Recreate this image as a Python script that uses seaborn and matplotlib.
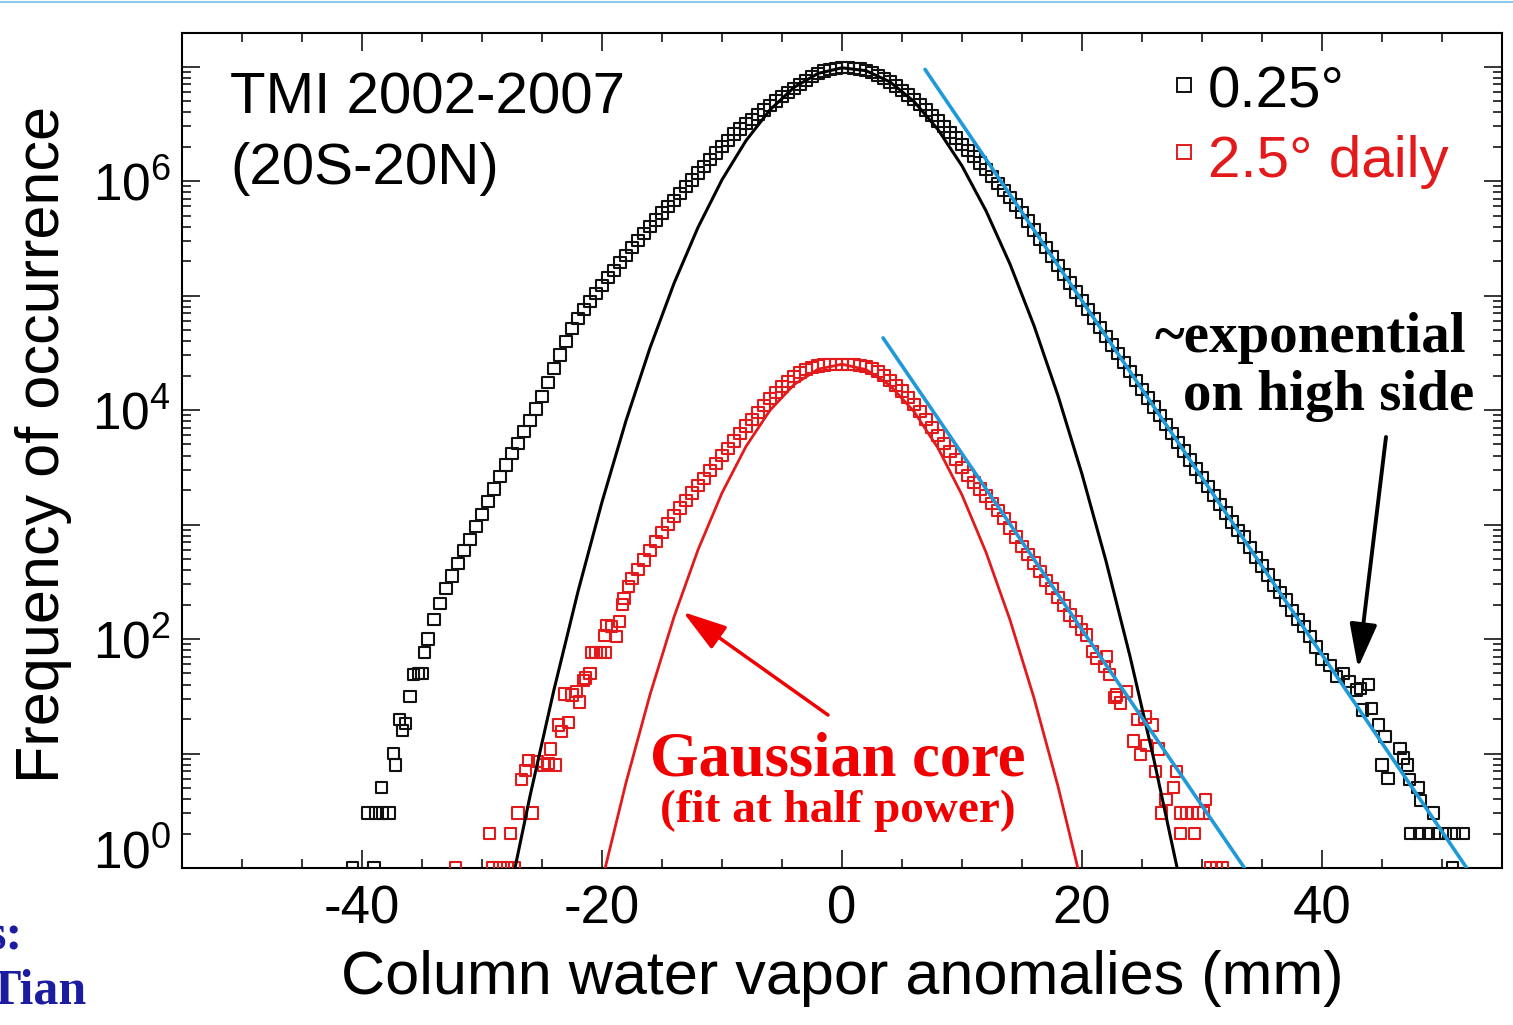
import numpy as np
import matplotlib
matplotlib.use("Agg")
import matplotlib.pyplot as plt
import seaborn as sns
from matplotlib.ticker import FixedLocator, LogLocator, FuncFormatter, MultipleLocator, NullFormatter

# ---------------- data ----------------
# log10(frequency) on a regular 0.5 mm grid of anomaly bins
black_core_start = -34.5
black_core_log10 = [
    2.00, 2.17, 2.31, 2.44, 2.55, 2.66, 2.77, 2.87, 2.98, 3.09,
    3.20, 3.31, 3.42, 3.52, 3.62, 3.71, 3.81, 3.91, 4.01, 4.12,
    4.24, 4.36, 4.48, 4.60, 4.71, 4.80, 4.88, 4.95, 5.02, 5.09,
    5.16, 5.22, 5.29, 5.35, 5.42, 5.48, 5.54, 5.60, 5.66, 5.72,
    5.775, 5.83, 5.89, 5.95, 6.01, 6.07, 6.13, 6.19, 6.245, 6.30,
    6.355, 6.41, 6.455, 6.50, 6.54, 6.58, 6.62, 6.66, 6.70, 6.74,
    6.775, 6.81, 6.845, 6.88, 6.91, 6.94, 6.96, 6.975, 6.985, 6.99,
    6.99, 6.986, 6.978, 6.965, 6.946, 6.923, 6.896, 6.865, 6.830, 6.792,
    6.752, 6.710, 6.666, 6.620, 6.573, 6.525, 6.476, 6.426, 6.375, 6.322,
    6.268, 6.213, 6.157, 6.099, 6.040, 5.980, 5.918, 5.855, 5.790, 5.724,
    5.650, 5.572, 5.495, 5.418, 5.340, 5.263, 5.186, 5.109, 5.031, 4.954,
    4.877, 4.800, 4.722, 4.645, 4.568, 4.491, 4.413, 4.336, 4.259, 4.182,
    4.104, 4.027, 3.950, 3.873, 3.795, 3.718, 3.641, 3.564, 3.486, 3.409,
    3.332, 3.255, 3.177, 3.100, 3.023, 2.946, 2.890, 2.800, 2.714, 2.637,
    2.559, 2.470, 2.405, 2.340, 2.250, 2.173, 2.110, 2.019, 1.930,
]
black_tail_x = [-34.8, -35.0, -35.3, -35.7, -36.0, -36.4, -36.6, -36.9, -37.2, -37.4,
                -37.75, -38.3, -38.4, -38.9, -39.0, -39.5, -40.8,
                40.0, 40.67, 41.2, 41.8, 42.3, 42.9, 43.2, 43.9, 43.4, 44.1,
                44.7, 45.25, 45.0, 45.5, 46.5, 46.8, 47.1, 47.3, 48.0, 48.2,
                49.3, 47.4, 48.1, 48.85, 49.6, 50.3, 51.0, 51.75, 50.9]
black_tail_log10 = [1.88, 1.70, 1.70, 1.69, 1.50, 1.26, 1.20, 1.30, 0.90, 1.00,
                    0.48, 0.48, 0.70, 0.48, 0.00, 0.48, 0.00,
                    1.82, 1.77, 1.67, 1.70, 1.63, 1.555, 1.57, 1.60, 1.38, 1.395,
                    1.25, 1.15, 0.90, 0.78, 1.045, 0.96, 0.90, 0.77, 0.70, 0.59,
                    0.48, 0.30, 0.30, 0.30, 0.30, 0.30, 0.30, 0.30, 0.00]

red_core_start = -17.5
red_core_log10 = [
    2.53, 2.61, 2.69, 2.77, 2.85, 2.93, 3.005, 3.075, 3.145, 3.21,
    3.275, 3.34, 3.405, 3.47, 3.535, 3.60, 3.665, 3.73, 3.795, 3.86,
    3.92, 3.98, 4.04, 4.10, 4.155, 4.205, 4.25, 4.29, 4.325, 4.352,
    4.372, 4.385, 4.393, 4.398, 4.40, 4.40, 4.40, 4.397, 4.39, 4.378,
    4.36, 4.335, 4.30, 4.26, 4.215, 4.165, 4.11, 4.05, 3.985, 3.92,
    3.85, 3.78, 3.71, 3.64, 3.57, 3.50, 3.43, 3.37, 3.31, 3.25,
    3.185, 3.12, 3.05, 2.97, 2.89, 2.81, 2.74, 2.665, 2.59, 2.51,
    2.44, 2.36, 2.29, 2.21, 2.15,
]
red_tail_x = [-17.8, -18.17, -18.27, -18.56, -18.8, -19.2, -19.6, -19.8, -19.75, -20.1,
              -20.5, -20.9, -21.0, -21.4, -21.56, -21.9, -22.1, -22.5, -23.1, -22.8,
              -23.4, -23.6, -24.3, -23.9, -24.5, -24.9, -25.4, -26.1, -26.4, -26.7,
              -25.8, -27.0, -27.6, -29.4, -27.3, -27.9, -28.5, -29.1, -32.2,
              19.97, 20.4, 20.9, 21.2, 22.06, 21.9, 22.3, 22.75, 22.9, 23.2,
              23.7, 24.6, 25.25, 25.9, 24.3, 25.4, 24.9, 26.4, 26.1, 27.9,
              27.6, 27.0, 30.3, 26.6, 28.2, 28.7, 29.2, 29.7, 30.1, 28.2,
              29.4, 30.7, 31.2, 31.7]
red_tail_log10 = [2.457, 2.355, 2.30, 2.15, 2.02, 2.11, 2.12, 2.03, 1.88, 1.88,
                  1.88, 1.88, 1.70, 1.66, 1.64, 1.45, 1.54, 1.51, 1.52, 1.27,
                  1.19, 1.25, 1.04, 0.90, 0.91, 0.90, 0.93, 0.94, 0.85, 0.77,
                  0.48, 0.48, 0.30, 0.30, 0.00, 0.00, 0.00, 0.00, 0.00,
                  2.08, 2.035, 1.89, 1.83, 1.845, 1.76, 1.69, 1.49, 1.51, 1.44,
                  1.54, 1.30, 1.32, 1.25, 1.11, 1.07, 0.99, 1.04, 0.84, 0.84,
                  0.70, 0.60, 0.60, 0.48, 0.48, 0.48, 0.48, 0.48, 0.48, 0.30,
                  0.30, 0.00, 0.00, 0.00]

# Gaussian fits (log10 frequency) sampled every 2 mm
gauss_x_black = [-28, -26, -24, -22, -20, -18, -16, -14, -12, -10, -8, -6, -4, -2, 0,
                 2, 4, 6, 8, 10, 12, 14, 16, 18, 20, 22, 24, 26, 28]
gauss_black_log10 = [-0.375, 0.628, 1.558, 2.415, 3.197, 3.907, 4.543, 5.106, 5.595, 6.011,
                     6.353, 6.622, 6.818, 6.940, 6.989, 6.964, 6.866, 6.695, 6.450, 6.132,
                     5.740, 5.275, 4.737, 4.125, 3.440, 2.681, 1.849, 0.943, -0.035]
gauss_x_red = [-20, -18, -16, -14, -12, -10, -8, -6, -4, -2, 0,
               2, 4, 6, 8, 10, 12, 14, 16, 18, 20]
gauss_red_log10 = [-0.114, 0.745, 1.514, 2.192, 2.779, 3.276, 3.682, 3.998, 4.222, 4.357, 4.400,
                   4.353, 4.215, 3.987, 3.668, 3.258, 2.758, 2.167, 1.485, 0.713, -0.150]

# exponential (straight on log axis) fits: end points
exp_black_x = [6.92, 52.06]
exp_black_log10 = [6.975, 0.0]
exp_red_x = [3.42, 33.54]
exp_red_log10 = [4.63, 0.0]

x_ticks = [-40, -20, 0, 20, 40]
y_decades = [0, 1, 2, 3, 4, 5, 6, 7]

# ---------------- styling ----------------
sns.set_theme(style="white")
plt.rcParams["font.family"] = ["Liberation Sans", "DejaVu Sans"]
plt.rcParams["mathtext.fontset"] = "custom"
plt.rcParams["mathtext.rm"] = "Liberation Sans"
plt.rcParams["axes.unicode_minus"] = False
for k in ["text.color", "axes.labelcolor", "xtick.color", "ytick.color", "axes.edgecolor"]:
    plt.rcParams[k] = "black"

W, H = 1513, 1025
fig = plt.figure(figsize=(W / 100, H / 100), dpi=100)
fig.patch.set_facecolor("white")
ax = fig.add_axes([182 / W, 1 - 868 / H, (1502 - 182) / W, (868 - 33) / H])
ax.set_facecolor("white")

def fpos(px, py):
    return (px / W, 1 - py / H)

BLACK = "#000000"
RED = "#e31a1c"
BLUE = "#1f9ad8"

bx = black_core_start + 0.5 * np.arange(len(black_core_log10))
rx = red_core_start + 0.5 * np.arange(len(red_core_log10))
black_x = np.concatenate([bx, black_tail_x])
black_y = np.power(10.0, np.concatenate([black_core_log10, black_tail_log10]))
red_x = np.concatenate([rx, red_tail_x])
red_y = np.power(10.0, np.concatenate([red_core_log10, red_tail_log10]))

sq = dict(marker="s", s=66, linewidth=1.5, legend=False, ax=ax, zorder=3)
sns.scatterplot(x=black_x, y=black_y, facecolor="none", edgecolor="#111111", **sq)
sns.scatterplot(x=red_x, y=red_y, facecolor="none", edgecolor=RED, **sq)

sns.lineplot(x=gauss_x_black, y=np.power(10.0, gauss_black_log10), color=BLACK, lw=2.2,
             sort=False, estimator=None, ax=ax, zorder=4)
sns.lineplot(x=gauss_x_red, y=np.power(10.0, gauss_red_log10), color=RED, lw=2.0,
             sort=False, estimator=None, ax=ax, zorder=4)
sns.lineplot(x=exp_black_x, y=np.power(10.0, exp_black_log10), color=BLUE, lw=2.6,
             sort=False, estimator=None, ax=ax, zorder=5)
sns.lineplot(x=exp_red_x, y=np.power(10.0, exp_red_log10), color=BLUE, lw=2.6,
             sort=False, estimator=None, ax=ax, zorder=5)

ax.set_yscale("log")
ax.set_xlim(-55, 55)
ax.set_ylim(1, 10 ** 7.293)

ax.xaxis.set_major_locator(FixedLocator(x_ticks))
ax.xaxis.set_minor_locator(MultipleLocator(5))
ax.xaxis.set_major_formatter(FuncFormatter(lambda v, p: "%d" % v))
ax.yaxis.set_major_locator(FixedLocator([10.0 ** k for k in y_decades]))
ax.yaxis.set_minor_locator(LogLocator(base=10, subs=np.arange(2, 10), numticks=30))
ax.yaxis.set_minor_formatter(NullFormatter())

def yfmt(v, p):
    k = int(round(np.log10(v)))
    return r"$\mathregular{10^{%d}}$" % k if k % 2 == 0 else ""

ax.yaxis.set_major_formatter(FuncFormatter(yfmt))

for s in ax.spines.values():
    s.set_visible(True)
    s.set_color("black")
    s.set_linewidth(1.5)
ax.tick_params(which="both", direction="in", top=True, right=True, bottom=True, left=True,
               color="black", width=1.1)
ax.tick_params(which="major", length=13)
ax.tick_params(which="minor", length=6.5)
ax.tick_params(axis="x", which="major", labelsize=38, pad=12, labelcolor="black")
ax.tick_params(axis="y", which="major", labelsize=37, pad=8, labelcolor="black")
ax.grid(False)

# the lowest decade label sits just above the bottom axis, as in the original
ax.yaxis.get_major_ticks()[0].label1.set_verticalalignment("baseline")

ax.set_xlabel("Column water vapor anomalies (mm)", fontsize=44, color="black")
ax.set_ylabel("Frequency of occurrence", fontsize=44, color="black")
ax.xaxis.set_label_coords(0.5, -0.098)
ax.yaxis.set_label_coords(-0.083, 0.5066)

# in-plot labels
fig.text(*fpos(230, 113), "TMI 2002-2007", fontsize=42, ha="left", va="baseline", color=BLACK)
fig.text(*fpos(230, 184), "(20S-20N)", fontsize=42, ha="left", va="baseline", color=BLACK)

# legend (manual)
for (py, col) in [(85, "#111111"), (152, RED)]:
    ax.plot([fpos(1184, py)[0]], [fpos(1184, py)[1]], marker="s", ms=10, mfc="none",
            mec=col, mew=1.4, transform=fig.transFigure, clip_on=False, ls="none")
fig.text(*fpos(1208, 107), "0.25°", fontsize=42, ha="left", va="baseline", color=BLACK)
fig.text(*fpos(1208, 177), "2.5° daily", fontsize=42, ha="left", va="baseline", color=RED)

serif_b = dict(family=["Liberation Serif", "DejaVu Serif"], weight="bold")
fig.text(*fpos(1155, 352), "~exponential", fontsize=41, ha="left", va="baseline",
         color="black", **serif_b)
fig.text(*fpos(1183, 410), "on high side", fontsize=41, ha="left", va="baseline",
         color="black", **serif_b)
fig.text(*fpos(838, 775), "Gaussian core", fontsize=45, ha="center", va="baseline",
         color="#f00000", **serif_b)
fig.text(*fpos(838, 822), "(fit at half power)", fontsize=34, ha="center", va="baseline",
         color="#f00000", **serif_b)

ax.annotate("", xy=fpos(1358, 668), xytext=fpos(1386, 437),
            xycoords="figure fraction", textcoords="figure fraction",
            arrowprops=dict(arrowstyle="-|>,head_length=0.9,head_width=0.28",
                            color="black", lw=2.8, mutation_scale=30, shrinkA=0, shrinkB=0))
ax.annotate("", xy=fpos(683, 612), xytext=fpos(828, 715),
            xycoords="figure fraction", textcoords="figure fraction",
            arrowprops=dict(arrowstyle="-|>,head_length=0.9,head_width=0.28",
                            color="#f00000", lw=2.5, mutation_scale=30, shrinkA=0, shrinkB=0))

# slide remnants at the bottom-left edge (cut by the image border, as in the original)
fig.text(*fpos(23, 950), "s:", fontsize=36, ha="right", va="baseline", color="#1c1ca0", **serif_b)
fig.text(*fpos(86, 1003), "Tian", fontsize=36, ha="right", va="baseline", color="#1c1ca0", **serif_b)

# thin slide border at top
fig.add_artist(matplotlib.lines.Line2D([0, 1], [1 - 1.5 / H, 1 - 1.5 / H],
                                       transform=fig.transFigure, color="#8cc8ea", lw=1.5))

fig.savefig("out.png", dpi=100)
